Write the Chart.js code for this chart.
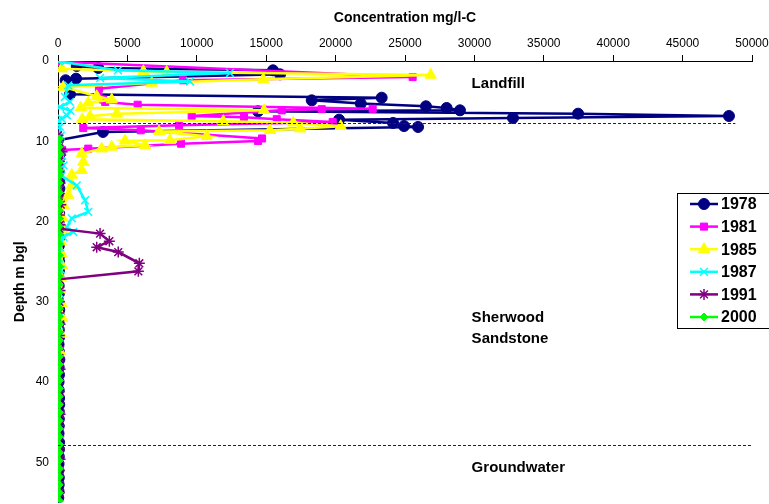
<!DOCTYPE html>
<html>
<head>
<meta charset="utf-8">
<script src="https://cdn.jsdelivr.net/npm/chart.js@4.4.0/dist/chart.umd.min.js"></script>
<style>
  body { margin: 0; background: #fff; overflow: hidden; }
  canvas { display: block; }
</style>
</head>
<body>
<canvas id="chart" width="769" height="510"></canvas>
<script>
// depth (m bgl) and concentration (mg/l-C) per survey year
const depth1978 = [0.62, 0.87, 1.16, 1.66, 2.2, 2.4, 4.15, 4.57, 4.9, 5.3, 5.64, 5.85, 6.14, 6.26, 6.56, 6.85, 7.1, 7.31, 7.72, 8.1, 8.22, 8.84, 9.88,
  11, 12, 13, 13.8, 15, 15.9, 17, 18, 19, 20.1, 21, 22, 23, 24.2, 25, 26.1, 27, 28, 29, 30, 31, 31.8, 32.6, 33.5, 34.4, 35.3, 36.2, 37.2, 38.2, 39.1, 40,
  41, 42, 42.8, 43.7, 44.6, 45.5, 46.4, 47.5, 48.4, 49.3, 50.2, 51, 51.9, 52.8, 53.6, 54.4];
const conc1978 = [1350, 2900, 15490, 16000, 1300, 550, 860, 23320, 18280, 21810, 26510, 28000, 28960, 14410, 37470, 48340, 32780, 20250, 24140, 24930, 25940, 3240, 0,
  60, 80, 40, 50, 90, 100, 50, 60, 80, 40, 70, 90, 60, 120, 80, 70, 40, 50, 60, 30, 90, 80, 50, 60, 80, 40, 60, 100, 50, 70, 40,
  50, 80, 90, 60, 60, 50, 40, 80, 70, 60, 40, 30, 60, 50, 40, 20];

const depth1981 = [0.1, 2.0, 2.4, 3.45, 4.8, 5.1, 5.45, 5.95, 6.0, 6.15, 6.85, 7.0, 7.25, 7.6, 8.0, 8.35, 8.63, 9.65, 9.96, 10.3, 10.92, 11.08,
  11.8, 12.5, 13.3, 14, 14.7, 15.4, 16.1, 16.9, 17.7, 18.4, 19.2, 20, 20.8, 21.6, 22.4, 23.2, 24, 24.8, 25.6, 26.4, 27.2, 28.2, 29.5];
const conc1981 = [100, 25550, 9000, 2950, 3240, 3400, 5740, 22670, 19000, 16120, 9630, 13400, 15760, 19790, 8720, 1820, 5960, 14700, 14410, 8860, 2180, 290,
  0, 0, 50, 0, 0, 30, 0, 0, 20, 0, 0, 0, 40, 0, 0, 30, 0, 0, 20, 0, 0, 40, 0];

const depth1985 = [0.95, 1.28, 1.37, 1.74, 2.28, 2.74, 3.24, 4.4, 4.82, 5.2, 5.82, 6.14, 6.56, 6.89, 7.26, 7.5, 7.7, 8.13, 8.43, 8.63, 8.78, 9.38, 9.88, 9.95,
  10.5, 10.7, 10.92, 11.54, 12.58, 13.6, 14.2, 15.5, 16.7, 18, 19.5, 21, 22.5, 24, 25.5, 27, 28.5, 30.2, 32, 34, 36.2];
const conc1985 = [270, 6150, 7830, 26850, 14790, 6750, 380, 2790, 3870, 2180, 1640, 14840, 4230, 2310, 1750, 11910, 16950, 20370, 17440, 15270, 7280, 10710, 8070, 4830,
  6270, 3870, 3150, 1710, 1820, 1710, 990, 990, 740, 400, 300, 350, 200, 250, 300, 200, 150, 250, 300, 200, 150];

const depth1987 = [0.06, 1.16, 1.49, 2.12, 2.55, 3.03, 4.48, 5.1, 5.73, 6.2, 6.76, 7.19, 7.38, 8.2, 9.3, 10.5, 11.8, 13, 14.3, 15.5, 17.35, 18.8, 19.6,
  20.7, 21.3, 21.9, 23.2, 24.6, 26, 27.5, 29, 30.5, 32, 33.8];
const conc1987 = [50, 4320, 12390, 3030, 9510, 740, 500, 860, 140, 900, 630, 270, 20, 140, 200, 100, 300, 400, 250, 1350, 1950, 2180, 990,
  630, 1100, 380, 150, 100, 200, 100, 150, 100, 50, 100];

const depth1991 = [9.25, 9.7, 10.9, 11.3, 12.5, 13.8, 15.2, 16.5, 17.9, 19.2, 20.4, 20.9, 21.5, 22.45, 23.2, 23.8, 25.2, 26.2, 27.2, 28.6, 30, 31.4, 32.8,
  34.2, 35.6, 37, 38.4, 39.8, 41.2, 42.6, 44, 45.4, 46.8, 48.2, 49.6, 51, 52.4, 53.8];
const conc1991 = [0, 50, 100, 300, 100, 50, 150, 100, 200, 100, 150, 100, 3030, 3700, 2790, 4340, 5860, 5790, 50, 150, 100, 50, 150,
  100, 50, 100, 150, 50, 100, 50, 150, 100, 50, 100, 150, 100, 50, 100];

const depth2000 = [9.7, 10.7, 11.6, 12.6, 13.6, 14.2, 15.2, 16.4, 17.6, 18.6, 19.6, 20.6, 21.6, 22.8, 24.2, 25.6, 26.8, 27.8, 28.8, 29.8, 30.8, 31.8, 32.8,
  33.8, 34.8, 35.8, 36.8, 37.8, 38.8, 39.8, 40.8, 41.8, 42.8, 43.8, 44.8, 45.8, 46.8, 47.8, 48.8, 49.8, 50.8, 51.8, 52.8, 53.8, 54.8];
const conc2000 = [100, 80, 120, 90, 100, 110, 80, 100, 120, 90, 100, 80, 110, 100, 90, 120, 100, 80, 100, 110, 90, 100, 120,
  80, 100, 90, 110, 100, 80, 100, 120, 90, 100, 110, 80, 100, 90, 120, 100, 80, 110, 100, 90, 100, 110];

const years = ["1978", "1981", "1985", "1987", "1991", "2000"];
const depths = [depth1978, depth1981, depth1985, depth1987, depth1991, depth2000];
const concs = [conc1978, conc1981, conc1985, conc1987, conc1991, conc2000];
const colors = ["#000080", "#ff00ff", "#ffff00", "#00ffff", "#800080", "#00ff00"];
const markers = ["circle", "rect", "triangle", "crossRot", "star", "rectRot"];
const markerSize = [5.5, 5, 6.5, 5.5, 5.5, 4];

const zoneLabels = [
  { text: ["Landfill"], x: 29800, y: 2.9 },
  { text: ["Sherwood", "Sandstone"], x: 29800, y: 32 },
  { text: ["Groundwater"], x: 29800, y: 50.7 },
];
const boundaries = [{ depth: 7.75, to: 48800 }, { depth: 47.8, to: 50000 }];

const datasets = years.map((yr, i) => ({
  label: yr,
  data: depths[i].map((d, j) => ({ x: concs[i][j], y: d })),
  borderColor: colors[i],
  backgroundColor: colors[i],
  pointStyle: markers[i],
  pointRadius: markerSize[i],
  pointBorderWidth: markers[i] == "crossRot" || markers[i] == "star" ? 1.5 : 1,
  borderWidth: 2.5,
  showLine: true,
  order: 5 - i,
}));

const overlay = {
  id: "overlay",
  afterDatasetsDraw(chart) {
    const ctx = chart.ctx;
    const xs = chart.scales.x;
    const ys = chart.scales.y;
    ctx.save();
    // zone boundaries
    ctx.strokeStyle = "#222";
    ctx.lineWidth = 1;
    ctx.setLineDash([3, 2]);
    boundaries.forEach((b) => {
      const py = Math.round(ys.getPixelForValue(b.depth)) + 0.5;
      ctx.beginPath();
      ctx.moveTo(xs.getPixelForValue(0), py);
      ctx.lineTo(xs.getPixelForValue(b.to), py);
      ctx.stroke();
    });
    ctx.setLineDash([]);

    // zone names
    ctx.fillStyle = "#000";
    ctx.font = "bold 15px 'Liberation Sans', Arial, sans-serif";
    ctx.textBaseline = "middle";
    ctx.textAlign = "left";
    zoneLabels.forEach((z) => {
      z.text.forEach((t, k) => {
        ctx.fillText(t, xs.getPixelForValue(z.x), ys.getPixelForValue(z.y) + k * 21);
      });
    });

    // legend box
    ctx.fillStyle = "#fff";
    ctx.fillRect(677, 193, 92, 135);
    ctx.strokeStyle = "#000";
    ctx.lineWidth = 1;
    ctx.strokeRect(677.5, 193.5, 100, 135);
    ctx.font = "bold 16px 'Liberation Sans', Arial, sans-serif";
    years.forEach((yr, i) => {
      const ly = 204 + i * 22.6;
      ctx.strokeStyle = colors[i];
      ctx.lineWidth = 2.5;
      ctx.beginPath();
      ctx.moveTo(690, ly);
      ctx.lineTo(718, ly);
      ctx.stroke();
      ctx.fillStyle = colors[i];
      ctx.lineWidth = datasets[i].pointBorderWidth;
      Chart.helpers.drawPoint(ctx, { pointStyle: markers[i], radius: markerSize[i], borderWidth: datasets[i].pointBorderWidth, rotation: 0 }, 704, ly);
      ctx.fillStyle = "#000";
      ctx.fillText(yr, 721, ly + 1);
    });
    ctx.restore();
  },
};

const config = {
  type: "scatter",
  data: { datasets: datasets },
  options: {
    responsive: false,
    animation: false,
    layout: { padding: { left: 0, top: 2, right: 17, bottom: 0 } },
    plugins: { legend: { display: false }, tooltip: { enabled: false } },
    scales: {
      x: {
        type: "linear",
        position: "top",
        min: 0,
        max: 50000,
        ticks: {
          stepSize: 5000,
          color: "#000",
          padding: 4,
          maxRotation: 0,
          callback: (v) => String(v),
          font: { family: "'Liberation Sans', Arial", size: 12 },
        },
        grid: { drawOnChartArea: false, drawTicks: true, tickLength: 6, color: "#000" },
        border: { display: true, color: "#000", width: 1 },
        title: {
          display: true,
          text: "Concentration mg/l-C",
          color: "#000",
          padding: { top: 8, bottom: 4 },
          font: { family: "'Liberation Sans', Arial", size: 14, weight: "bold" },
        },
        afterFit(scale) {
          scale.height = 59;
          scale.paddingLeft = 0;
          scale.paddingRight = 0;
        },
      },
      y: {
        type: "linear",
        reverse: true,
        min: 0,
        max: 55,
        afterBuildTicks(scale) {
          scale.ticks = scale.ticks.filter((t) => t.value % 10 === 0);
        },
        ticks: {
          stepSize: 10,
          color: "#000",
          padding: 9,
          font: { family: "'Liberation Sans', Arial", size: 12 },
        },
        grid: { drawOnChartArea: false, drawTicks: false },
        border: { display: true, color: "#000", width: 1 },
        title: {
          display: true,
          text: "Depth m bgl",
          color: "#000",
          padding: { top: 12, bottom: 0 },
          font: { family: "'Liberation Sans', Arial", size: 14, weight: "bold" },
        },
        afterFit(scale) {
          scale.width = 58;
          scale.paddingTop = 0;
          scale.paddingBottom = 0;
        },
      },
    },
  },
  plugins: [overlay],
};

const myChart = new Chart(document.querySelector("#chart"), config);
</script>
</body>
</html>
